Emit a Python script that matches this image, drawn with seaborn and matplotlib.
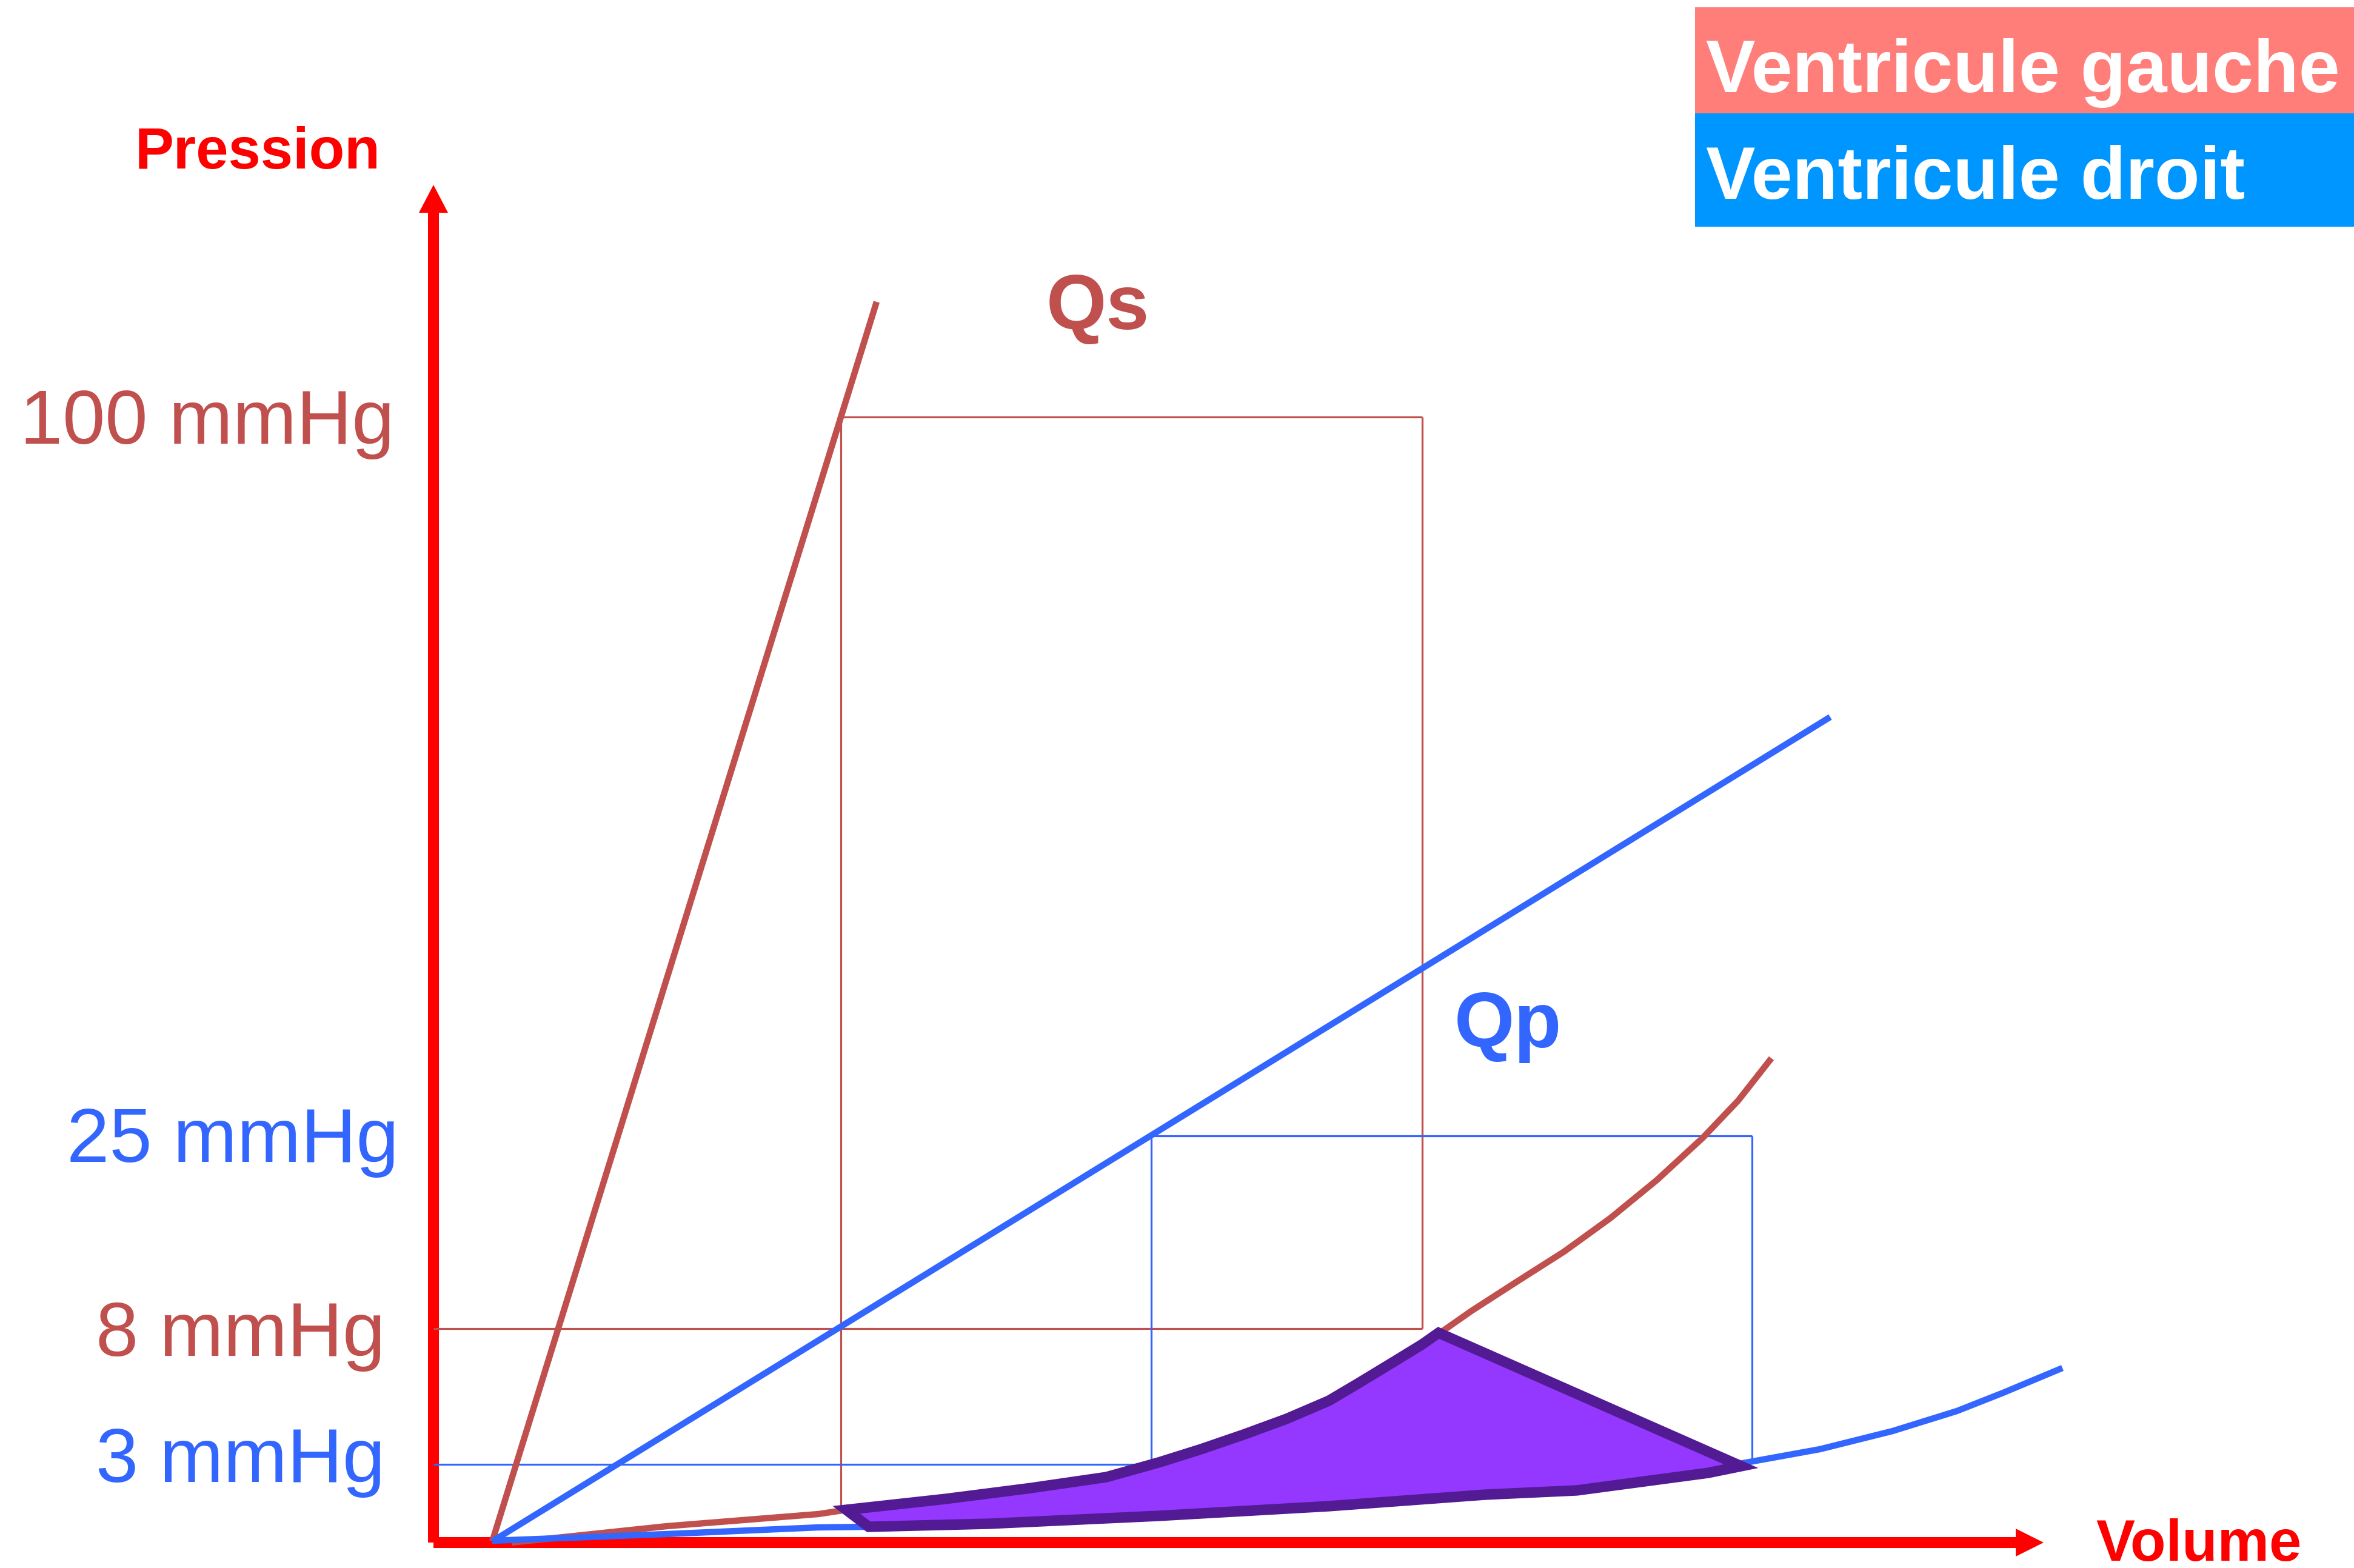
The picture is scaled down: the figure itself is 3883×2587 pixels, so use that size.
import numpy as np
import pandas as pd
import matplotlib
matplotlib.use("Agg")
import matplotlib.pyplot as plt
import seaborn as sns
from matplotlib.patches import Polygon, Rectangle

# ---- diagram data (volume / pressure in diagram units, origin at the axes corner) ----
# Left ventricle: end-systolic pressure-volume relation (straight, steep)
lv_espvr_vol = [97, 731]
lv_espvr_p = [2, 2047]
# Left ventricle: end-diastolic pressure-volume relation (curved)
lv_edpvr_vol = [129, 385, 635, 681, 845, 986, 1110, 1196, 1266, 1336, 1407,
                1477, 1526, 1582, 1631, 1662, 1712, 1788, 1865, 1941, 2018,
                2094, 2152, 2207]
lv_edpvr_p = [0, 27, 47, 54, 72, 90, 108, 132, 154, 178, 204,
              234, 263, 297, 327, 347, 382, 431, 480, 535, 598,
              668, 729, 799]
# Right ventricle: end-systolic relation (straight, shallow)
rv_espvr_vol = [97, 2304]
rv_espvr_p = [2, 1362]
# Right ventricle: end-diastolic relation
rv_edpvr_vol = [97, 385, 635, 718, 916, 1196, 1477, 1735, 1886, 2035, 2160,
                2287, 2407, 2513, 2589, 2687]
rv_edpvr_p = [3, 14, 25, 26, 31, 44, 60, 79, 88, 106, 131,
              154, 184, 217, 247, 288]

# Pressure levels shown on the vertical axis
pressure_mmHg = [100, 25, 8, 3]
pressure_pos = [1857, 671, 353, 129]
pressure_side = ["VG", "VD", "VG", "VD"]

# Work boxes: left ventricle (8 -> 100 mmHg) and right ventricle (3 -> 25 mmHg)
lv_box_vol = [672, 1631]
rv_box_vol = [1184, 2175]

# Shaded region between the two diastolic curves
shade_vol = [681, 845, 986, 1110, 1196, 1266, 1336, 1407, 1477, 1526, 1582,
             1631, 1658, 2157, 2103, 1886, 1735, 1477, 1196, 916, 718]
shade_p = [54, 72, 90, 108, 132, 154, 178, 204, 234, 263, 297,
           327, 346, 126, 115, 86, 79, 60, 44, 31, 26]

# ---- colours ----
RED_AXIS = "#FF0000"
LV_COL = "#C0504D"
RV_COL = "#3366FF"
FILL_COL = "#9437FF"
EDGE_COL = "#531B93"
LEG_LV = "#FF7E79"
LEG_RV = "#0096FF"

sns.set_theme(style="white")
plt.rcParams["font.family"] = ["Liberation Sans", "DejaVu Sans"]

fig = plt.figure(figsize=(38.83, 25.87), dpi=100)
ax = fig.add_axes([0, 0, 1, 1])
ax.set_xlim(-715, 3168)
ax.set_ylim(-42, 2545)
ax.axis("off")

# ---- axes with arrow heads ----
ax.plot([0, 0], [0, 2196], color=RED_AXIS, linewidth=13, solid_capstyle="butt", zorder=1)
ax.plot([0, 2612], [0, 0], color=RED_AXIS, linewidth=13, solid_capstyle="butt", zorder=1)
ax.add_patch(Polygon([(-24, 2194), (24, 2194), (0, 2240)], closed=True,
                     color=RED_AXIS, lw=0, zorder=1))
ax.add_patch(Polygon([(2610, -23), (2610, 23), (2656, 0)], closed=True,
                     color=RED_AXIS, lw=0, zorder=1))

# ---- thin guide lines (pressure levels and work boxes) ----
thin = dict(linewidth=2.3, zorder=2, solid_capstyle="butt")
p100, p25, p8, p3 = pressure_pos
# left ventricle
ax.plot([0, lv_box_vol[1]], [p8, p8], color=LV_COL, **thin)
ax.plot([lv_box_vol[0], lv_box_vol[1]], [p100, p100], color=LV_COL, **thin)
ax.plot([lv_box_vol[0], lv_box_vol[0]], [p100, 55], color=LV_COL, **thin)
ax.plot([lv_box_vol[1], lv_box_vol[1]], [p100, p8], color=LV_COL, **thin)
# right ventricle
ax.plot([0, rv_box_vol[0]], [p3, p3], color=RV_COL, **thin)
ax.plot([rv_box_vol[0], rv_box_vol[1]], [p25, p25], color=RV_COL, **thin)
ax.plot([rv_box_vol[0], rv_box_vol[0]], [p25, p3], color=RV_COL, **thin)
ax.plot([rv_box_vol[1], rv_box_vol[1]], [p25, 137], color=RV_COL, **thin)

# ---- pressure-volume relations ----
frames = []
for name, v, p in [("VG systole", lv_espvr_vol, lv_espvr_p),
                   ("VG diastole", lv_edpvr_vol, lv_edpvr_p),
                   ("VD systole", rv_espvr_vol, rv_espvr_p),
                   ("VD diastole", rv_edpvr_vol, rv_edpvr_p)]:
    frames.append(pd.DataFrame({"courbe": name, "volume": v, "pression": p}))
curves = pd.concat(frames, ignore_index=True)
palette = {"VG systole": LV_COL, "VG diastole": LV_COL,
           "VD systole": RV_COL, "VD diastole": RV_COL}
sns.lineplot(data=curves, x="volume", y="pression", hue="courbe", units="courbe",
             estimator=None, sort=False, palette=palette, linewidth=7.5,
             solid_capstyle="butt", solid_joinstyle="round", legend=False,
             ax=ax, zorder=3)

# ---- shaded area ----
ax.add_patch(Polygon(list(zip(shade_vol, shade_p)), closed=True, facecolor=FILL_COL,
                     edgecolor=EDGE_COL, lw=12.5, joinstyle="miter", zorder=4))

# ---- labels ----
ax.text(-290, 2267, "Pression", color=RED_AXIS, fontsize=69, fontweight="bold",
        ha="center", va="baseline", zorder=5)
ax.text(2742, -30, "Volume", color=RED_AXIS, fontsize=69, fontweight="bold",
        ha="left", va="baseline", zorder=5)
ax.text(1096, 2002, "Qs", color=LV_COL, fontsize=92, fontweight="bold",
        ha="center", va="baseline", zorder=5)
ax.text(1772, 818, "Qp", color=RV_COL, fontsize=92, fontweight="bold",
        ha="center", va="baseline", zorder=5)

label_x = [-64, -57, -80, -80]
label_base = [1813, 628, 308, 100]
for val, side, x, yb in zip(pressure_mmHg, pressure_side, label_x, label_base):
    ax.text(x, yb, f"{val} mmHg", color=LV_COL if side == "VG" else RV_COL,
            fontsize=91, ha="right", va="baseline", zorder=5)

# ---- colour key ----
ax.add_patch(Rectangle((2081, 2358), 1087, 175, facecolor=LEG_LV, lw=0, zorder=5))
ax.add_patch(Rectangle((2081, 2171), 1087, 187, facecolor=LEG_RV, lw=0, zorder=5))
ax.text(2099, 2393, "Ventricule gauche", color="white", fontsize=88,
        fontweight="bold", ha="left", va="baseline", zorder=6)
ax.text(2099, 2217, "Ventricule droit", color="white", fontsize=88,
        fontweight="bold", ha="left", va="baseline", zorder=6)

fig.savefig("out.png", dpi=100, facecolor="white")
